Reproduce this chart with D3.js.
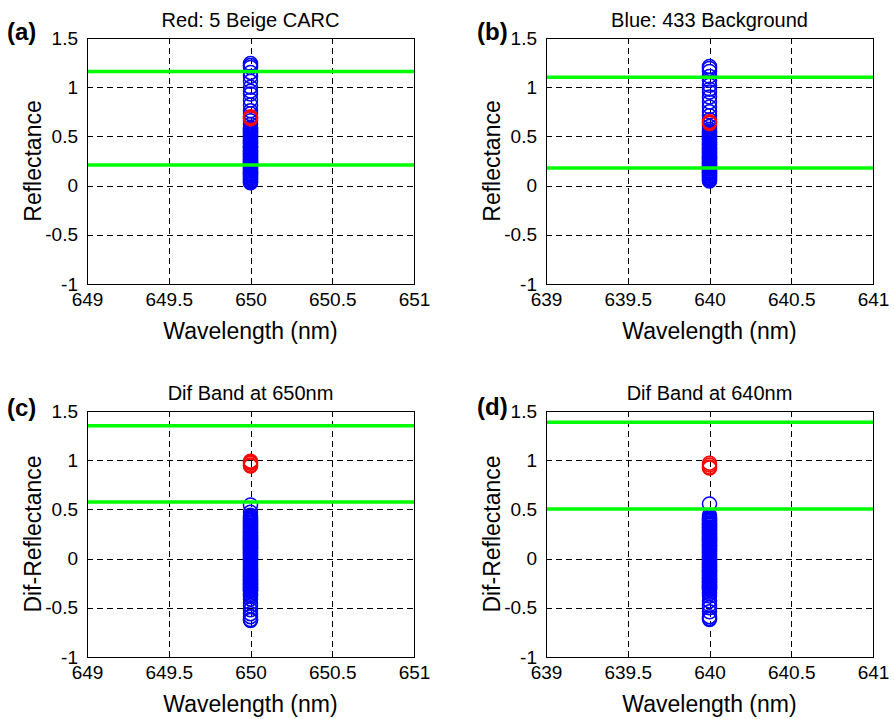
<!DOCTYPE html>
<html>
<head>
<meta charset="utf-8">
<script src="https://cdn.jsdelivr.net/npm/d3@7"></script>
<style>
  body { margin: 0; background: #fff; }
  text { font-family: "Liberation Sans", Arial, Helvetica, sans-serif; fill: #000; }
</style>
</head>
<body>
<div id="chart"></div>
<script>

var panelTags = ["(a)", "(b)", "(c)", "(d)"];
var titles = ["Red: 5 Beige CARC", "Blue: 433 Background", "Dif Band at 650nm", "Dif Band at 640nm"];
var yTitles = ["Reflectance", "Reflectance", "Dif-Reflectance", "Dif-Reflectance"];
var bands = [650, 640, 650, 640];
var yTicks = [-1, -0.5, 0, 0.5, 1, 1.5];
var xOffsets = [-1, -0.5, 0, 0.5, 1];
var greenHigh = [1.16, 1.10, 1.35, 1.385];
var greenLow = [0.21, 0.18, 0.575, 0.505];

var blueA = [1.24, 1.22, 1.20, 1.15, 1.11, 1.06, 1.00, 0.96, 0.93, 0.87, 0.82, 0.76, 0.73, 0.66, 0.62,
    0.594, 0.583, 0.571, 0.566, 0.552, 0.541, 0.537, 0.522, 0.514, 0.503, 0.491, 0.486, 0.472, 0.461,
    0.455, 0.443, 0.432, 0.428, 0.414, 0.401, 0.396, 0.384, 0.377, 0.362, 0.351, 0.347, 0.333, 0.321,
    0.316, 0.304, 0.292, 0.287, 0.273, 0.262, 0.255, 0.243, 0.234, 0.226, 0.212, 0.203, 0.197, 0.184,
    0.176, 0.163, 0.151, 0.146, 0.132, 0.124, 0.113, 0.102, 0.095, 0.083, 0.074, 0.066, 0.052, 0.044,
    0.036, 0.028];
var redA = [0.68, 0.69, 0.70];

var blueB = [1.21, 1.19, 1.16, 1.11, 1.07, 1.02, 0.98, 0.95, 0.90, 0.85, 0.80, 0.75, 0.71, 0.67, 0.60, 0.57,
    0.553, 0.541, 0.534, 0.522, 0.511, 0.503, 0.494, 0.482, 0.473, 0.466, 0.452, 0.441, 0.436, 0.423,
    0.412, 0.404, 0.391, 0.383, 0.372, 0.364, 0.352, 0.343, 0.331, 0.325, 0.312, 0.301, 0.294, 0.283,
    0.272, 0.266, 0.254, 0.242, 0.233, 0.224, 0.213, 0.205, 0.192, 0.184, 0.171, 0.166, 0.153, 0.142,
    0.134, 0.122, 0.115, 0.103, 0.094, 0.083, 0.075, 0.064, 0.056, 0.047];
var redB = [0.63, 0.64, 0.65];

var blueC = [0.545, 0.47, 0.44,
    0.423, 0.412, 0.403, 0.391, 0.384, 0.372, 0.361, 0.355, 0.342, 0.333, 0.321, 0.314, 0.302, 0.293,
    0.284, 0.271, 0.262, 0.255, 0.243, 0.231, 0.224, 0.212, 0.203, 0.194, 0.182, 0.173, 0.165, 0.152,
    0.144, 0.133, 0.121, 0.114, 0.102, 0.093, 0.085, 0.072, 0.064, 0.053, 0.041, 0.034, 0.022, 0.013,
    0.004, -0.008, -0.016, -0.027, -0.035, -0.046, -0.058, -0.064, -0.077, -0.085, -0.096, -0.107,
    -0.114, -0.126, -0.135, -0.143, -0.156, -0.164, -0.175, -0.186, -0.193, -0.205, -0.214, -0.226,
    -0.233, -0.245, -0.256, -0.262, -0.274, -0.285, -0.293, -0.304, -0.316, -0.325, -0.334,
    -0.352, -0.368, -0.385, -0.41, -0.45, -0.48, -0.52, -0.56, -0.59, -0.62, -0.63];
var redC = [0.94, 0.95, 0.97, 0.98, 0.99];

var blueD = [0.555, 0.44,
    0.421, 0.414, 0.402, 0.393, 0.385, 0.374, 0.362, 0.353, 0.344, 0.336, 0.322, 0.315, 0.304, 0.292,
    0.286, 0.273, 0.264, 0.252, 0.245, 0.233, 0.222, 0.216, 0.204, 0.195, 0.183, 0.174, 0.166, 0.153,
    0.142, 0.135, 0.123, 0.112, 0.106, 0.094, 0.083, 0.075, 0.062, 0.054, 0.046, 0.033, 0.025, 0.012,
    0.003, -0.006, -0.018, -0.025, -0.037, -0.044, -0.056, -0.063, -0.075, -0.086, -0.094, -0.103,
    -0.115, -0.124, -0.136, -0.142, -0.154, -0.163, -0.175, -0.183, -0.196, -0.204, -0.213, -0.225,
    -0.236, -0.244, -0.253, -0.265, -0.276, -0.284, -0.295, -0.303, -0.314, -0.322,
    -0.341, -0.357, -0.38, -0.43, -0.47, -0.50, -0.54, -0.59, -0.61, -0.62];
var redD = [0.92, 0.93, 0.95, 0.97];

var blues = [blueA, blueB, blueC, blueD];
var reds = [redA, redB, redC, redD];

var W = 894, H = 719;
var plotW = 327, plotH = 246;
var lefts = [87, 546, 87, 546];
var tops = [38, 38, 411, 411];
var tagX = [7, 477, 7, 477];
var tagY = [40, 40, 416, 415];

var svg = d3.select("#chart").append("svg")
    .attr("width", W)
    .attr("height", H);

for (var i = 0; i < 4; i++) {
    drawPanel(i);
}

function drawPanel(i) {
    var g = svg.append("g").attr("transform", "translate(" + lefts[i] + "," + tops[i] + ")");
    var band = bands[i];
    var xTickVals = xOffsets.map(function(d) { return band + d; });

    var x = d3.scaleLinear().domain([band - 1, band + 1]).range([0, plotW]);
    var y = d3.scaleLinear().domain([-1, 1.5]).range([plotH, 0]);

    // dashed grid
    g.append("g").selectAll("line")
        .data(xTickVals.slice(1, -1))
        .enter().append("line")
        .attr("x1", function(d) { return Math.round(x(d)) + 0.5; })
        .attr("x2", function(d) { return Math.round(x(d)) + 0.5; })
        .attr("y1", 0).attr("y2", plotH)
        .attr("stroke", "#000").attr("stroke-width", 1)
        .attr("stroke-dasharray", "6,4");
    g.append("g").selectAll("line")
        .data(yTicks.slice(1, -1))
        .enter().append("line")
        .attr("x1", 0).attr("x2", plotW)
        .attr("y1", function(d) { return Math.round(y(d)) + 0.5; })
        .attr("y2", function(d) { return Math.round(y(d)) + 0.5; })
        .attr("stroke", "#000").attr("stroke-width", 1)
        .attr("stroke-dasharray", "6,4");

    // points
    g.append("g").selectAll("circle")
        .data(blues[i])
        .enter().append("circle")
        .attr("cx", x(band))
        .attr("cy", function(d) { return y(d); })
        .attr("r", 7)
        .attr("fill", "none")
        .attr("stroke", "#0000ff")
        .attr("stroke-width", 1.5);
    g.append("g").selectAll("circle")
        .data(reds[i])
        .enter().append("circle")
        .attr("cx", x(band))
        .attr("cy", function(d) { return y(d); })
        .attr("r", 7)
        .attr("fill", "none")
        .attr("stroke", "#ff0000")
        .attr("stroke-width", 1.5);

    // thresholds
    g.append("g").selectAll("line")
        .data([greenHigh[i], greenLow[i]])
        .enter().append("line")
        .attr("x1", 0).attr("x2", plotW)
        .attr("y1", function(d) { return y(d); })
        .attr("y2", function(d) { return y(d); })
        .attr("stroke", "#00ff00")
        .attr("stroke-width", 3.5);

    // box
    g.append("rect")
        .attr("x", 0.5).attr("y", 0.5)
        .attr("width", plotW).attr("height", plotH)
        .attr("fill", "none")
        .attr("stroke", "#000")
        .attr("stroke-width", 1);

    // axes
    var xAxis = g.append("g")
        .attr("transform", "translate(0," + plotH + ")")
        .call(d3.axisBottom(x).tickValues(xTickVals).tickSize(0).tickPadding(9)
            .tickFormat(function(d) { return String(d); }));
    xAxis.select(".domain").remove();
    xAxis.selectAll("text").style("font-size", "19px");

    var yAxis = g.append("g")
        .call(d3.axisLeft(y).tickValues(yTicks).tickSize(0).tickPadding(9)
            .tickFormat(function(d) { return String(d); }));
    yAxis.select(".domain").remove();
    yAxis.selectAll("text").style("font-size", "19px");

    // labels
    g.append("text")
        .attr("x", plotW / 2).attr("y", -11)
        .attr("text-anchor", "middle")
        .style("font-size", "20px")
        .text(titles[i]);
    g.append("text")
        .attr("x", plotW / 2).attr("y", plotH + 55)
        .attr("text-anchor", "middle")
        .style("font-size", "23px")
        .text("Wavelength (nm)");
    g.append("text")
        .attr("transform", "translate(-46," + plotH / 2 + ") rotate(-90)")
        .attr("text-anchor", "middle")
        .style("font-size", "23px")
        .text(yTitles[i]);

    svg.append("text")
        .attr("x", tagX[i]).attr("y", tagY[i])
        .style("font-size", "24px")
        .style("font-weight", "bold")
        .text(panelTags[i]);
}
</script>
</body>
</html>
